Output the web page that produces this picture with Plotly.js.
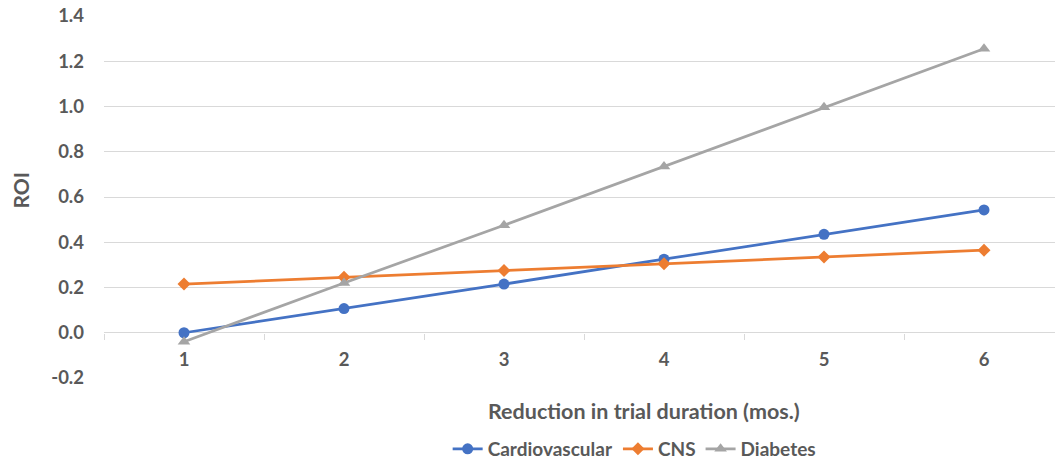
<!DOCTYPE html>
<html><head><meta charset="utf-8">
<script src="https://cdn.plot.ly/plotly-3.0.1.min.js"></script>
<style>body{margin:0;background:#fff}#chart{width:1055px;height:466px}</style>
</head><body><div id="chart"></div>
<script>
const months = [1, 2, 3, 4, 5, 6];
const tickLabels = ['1', '2', '3', '4', '5', '6'];
const yTickVals = [-0.2, 0, 0.2, 0.4, 0.6, 0.8, 1.0, 1.2, 1.4];
const yTickLabels = ['-0.2', '0.0', '0.2', '0.4', '0.6', '0.8', '1.0', '1.2', '1.4'];
const cardiovascular = [0.0, 0.107, 0.215, 0.325, 0.435, 0.543];
const cns = [0.215, 0.245, 0.275, 0.305, 0.335, 0.365];
const diabetes = [-0.04, 0.22, 0.475, 0.735, 0.997, 1.255];

const FONT = 'Lato, "Open Sans", sans-serif';
const GREY = '#595959';

const traces = [
  {x: months, y: cardiovascular, name: 'Cardiovascular', mode: 'lines+markers',
   line: {color: '#4472C4', width: 2.75}, marker: {symbol: 'circle', size: 11, color: '#4472C4'}},
  {x: months, y: cns, name: 'CNS', mode: 'lines+markers',
   line: {color: '#ED7D31', width: 2.75}, marker: {symbol: 'diamond', size: 10, color: '#ED7D31'}},
  {x: months, y: diabetes, name: 'Diabetes', mode: 'lines+markers',
   line: {color: '#A5A5A5', width: 2.75}, marker: {symbol: 'triangle-up', size: 11, color: '#A5A5A5'}}
];

const layout = {
  width: 1055, height: 466,
  margin: {l: 104, r: 0, t: 16, b: 88, autoexpand: false},
  paper_bgcolor: '#fff', plot_bgcolor: '#fff',
  font: {family: FONT, color: GREY, size: 18, weight: 'bold'},
  showlegend: true,
  legend: {orientation: 'h', x: 0.558, xanchor: 'center', y: -0.196, yanchor: 'middle',
           font: {family: FONT, size: 19, color: GREY, weight: 'bold'}, itemwidth: 30, tracegroupgap: 0},
  xaxis: {
    type: 'linear', range: [0.5, 6.44375], anchor: 'free', position: 0.125, automargin: false,
    tickmode: 'array', tickvals: months, ticktext: tickLabels,
    ticks: '', showgrid: false, showline: false, zeroline: false,
    tickfont: {family: FONT, size: 18.5, color: GREY, weight: 'bold'},
    ticklabelstandoff: 14,
    minor: {tickmode: 'linear', tick0: 0.5, dtick: 1, ticks: 'outside', ticklen: 6, tickcolor: '#d9d9d9', tickwidth: 1, showgrid: false}
  },
  yaxis: {
    range: [-0.2, 1.4], tickmode: 'array', tickvals: yTickVals, ticktext: yTickLabels, automargin: false,
    showgrid: true, gridcolor: '#d9d9d9', gridwidth: 1,
    zeroline: true, zerolinecolor: '#d9d9d9', zerolinewidth: 1,
    showline: false, ticks: '', ticklabelstandoff: 19,
    tickfont: {family: FONT, size: 18.5, color: GREY, weight: 'bold'}
  },
  annotations: [
    {text: 'Reduction in trial duration (mos.)', xref: 'paper', yref: 'paper', x: 0.568, y: -0.091,
     xanchor: 'center', yanchor: 'middle', showarrow: false,
     font: {family: FONT, size: 21.5, color: GREY, weight: 'bold'}},
    {text: 'ROI', xref: 'paper', yref: 'paper', x: -0.088, y: 0.519, textangle: -90,
     xanchor: 'center', yanchor: 'middle', showarrow: false,
     font: {family: FONT, size: 21, color: GREY, weight: 'bold'}}
  ]
};

Plotly.newPlot('chart', traces, layout, {displayModeBar: false, staticPlot: true});
</script></body></html>
